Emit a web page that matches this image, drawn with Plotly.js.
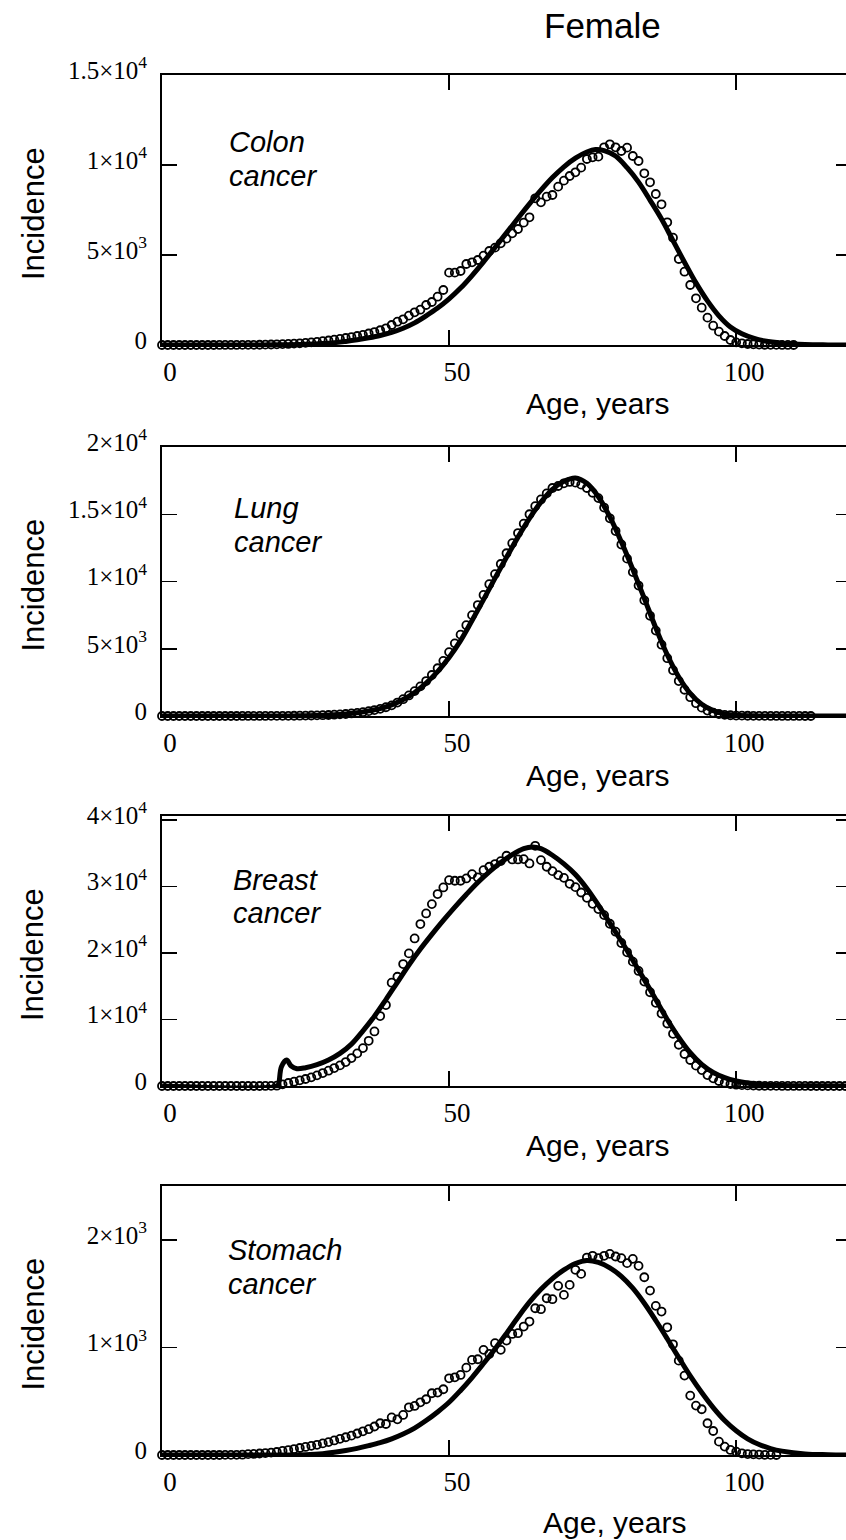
<!DOCTYPE html>
<html><head><meta charset="utf-8">
<script src="https://cdn.plot.ly/plotly-3.0.1.min.js"></script>
<style>html,body{margin:0;padding:0;overflow:hidden;background:#fff;width:846px;height:1540px}#plot{width:860px;height:1540px}</style>
</head><body><div id="plot"></div><script>
// ---------- DATA ----------
const figureTitle = "Female";
const xTitle = "Age, years";
const yTitle = "Incidence";
const cancerNames = [["Colon","cancer"],["Lung","cancer"],["Breast","cancer"],["Stomach","cancer"]];

const xTickVals = [0, 50, 100];
const xTickText = ["0", "50", "100"];

const colonTickVals = [0, 5000, 10000, 15000];
const colonTickText = ["0", "5×10<sup>3</sup>", "1×10<sup>4</sup>", "1.5×10<sup>4</sup>"];
const lungTickVals = [0, 5000, 10000, 15000, 20000];
const lungTickText = ["0", "5×10<sup>3</sup>", "1×10<sup>4</sup>", "1.5×10<sup>4</sup>", "2×10<sup>4</sup>"];
const breastTickVals = [0, 10000, 20000, 30000, 40000];
const breastTickText = ["0", "1×10<sup>4</sup>", "2×10<sup>4</sup>", "3×10<sup>4</sup>", "4×10<sup>4</sup>"];
const stomachTickVals = [0, 1000, 2000];
const stomachTickText = ["0", "1×10<sup>3</sup>", "2×10<sup>3</sup>"];

// observed incidence, one value per year of age starting at age 0
const colonObserved = [
 0,0,0,0,0,0,0,0,0,0,
 2,2,3,4,5,8,10,14,20,28,
 40,50,60,75,95,120,145,175,210,250,
 295,340,390,440,500,560,640,720,820,926,
 1111,1296,1426,1630,1815,1963,2222,2389,2685,3056,
 4019,4019,4111,4500,4593,4722,4963,5223,5408,5649,
 5908,6204,6445,6797,7093,8149,7927,8241,8334,8797,
 9130,9390,9594,9853,10334,10427,10464,10982,11149,10982,
 10778,10964,10501,10223,9538,9038,8390,7815,6815,5963,
 4778,4074,3334,2593,2074,1519,1074,741,500,278,
 148,93,56,35,22,15,10,6,4,2,1];
const lungObserved = [
 0,0,0,0,0,0,0,0,0,0,
 0,0,1,1,2,2,3,4,5,7,
 8,10,14,18,23,30,38,48,60,75,
 95,120,150,190,235,290,360,440,530,650,
 790,1000,1250,1530,1850,2200,2600,3050,3550,4100,
 4750,5400,6050,6750,7500,8250,9000,9800,10550,11300,
 12100,12850,13600,14300,15000,15600,16100,16550,16950,17100,
 17300,17400,17350,17200,16950,16600,16200,15500,14700,13750,
 12750,11700,10700,9700,8600,7450,6350,5300,4300,3400,
 2600,1950,1400,950,620,400,250,150,90,55,
 35,26,19,14,10,8,6,5,4,3,2,2,1,1];
const breastObserved = [
 0,0,0,0,0,0,0,0,0,0,
 0,0,0,0,0,0,0,0,5,15,
 50,250,450,650,850,1050,1300,1600,1950,2300,
 2700,3100,3600,4200,4900,5700,6800,8200,10520,12170,
 15530,16430,18340,19940,22190,24350,25950,27350,28860,29860,
 30960,30860,30860,31210,31860,31360,32460,32970,33370,33820,
 34620,34070,34070,34120,33470,36120,33970,32970,32310,31710,
 31300,30400,29900,29100,28300,27400,26600,25700,24400,23200,
 21500,20100,18700,17300,15700,14100,12500,10900,9400,7850,
 6200,4810,3910,3060,2400,1650,1150,750,500,300,
 200,130,90,60,40,30,20,15,10,8,6,5,4,3,2,2,1,1,0,0,0];
const stomachObserved = [
 0,0,0,0,0,0,0,0,0,0,
 0,1,1,2,3,8,10,14,18,22,
 28,38,46,55,65,75,85,95,108,120,
 135,150,165,180,200,220,240,265,295,288,
 350,332,372,443,456,490,518,574,580,611,
 713,722,744,812,884,890,977,939,1039,977,
 1063,1125,1132,1194,1240,1364,1355,1457,1448,1572,
 1488,1581,1721,1683,1835,1851,1829,1851,1869,1845,
 1829,1783,1823,1758,1652,1528,1386,1333,1187,1029,
 877,738,552,459,425,295,223,124,78,47,
 31,16,9,6,4,2,1,0];

// model curves (age, incidence)
const colonModelAge = [0,10,15,20,25,30,32,34,36,38,40,42,44,46,48,50,52,54,56,58,60,62,64,66,68,70,72,74,75.5,77,79,81,83,85,87,89,91,93,95,97,99,101,103,105,108,112,116,120];
const colonModel    = [0,0,2,10,45,130,200,290,400,530,700,930,1230,1620,2050,2560,3160,3860,4620,5420,6230,7040,7840,8600,9300,9900,10380,10720,10860,10800,10500,9850,9050,8050,7000,5800,4600,3450,2450,1620,1000,620,380,220,100,25,5,0];
const lungModelAge = [0,10,20,24,28,30,32,34,36,38,40,42,44,46,48,50,52,54,56,58,60,62,64,66,68,70,72,74,76,78,80,82,84,86,88,90,92,94,96,98,100,104,110,120];
const lungModel    = [0,0,5,15,55,90,150,240,380,545,830,1230,1750,2450,3300,4350,5600,7100,8650,10250,11800,13300,14700,15900,16850,17450,17700,17300,16300,14800,12950,10900,8750,6550,4550,2900,1680,870,400,160,55,8,0,0];
const breastModelAge = [0,20,20.3,20.8,21.7,22.5,23.5,25,27,29,31,33,35,37,39,41,43,45,47,49,51,53,55,57,59,61,63,64.5,66,68,70,72,74,76,78,80,82,84,86,88,90,92,94,96,98,100,102,105,108,113,120];
const breastModel    = [0,0,300,2900,3900,3000,2600,2750,3200,3900,4900,6300,8300,10500,13000,15600,18200,20600,22800,24900,26900,28800,30600,32200,33600,34800,35700,35950,35700,34700,33400,31800,29700,27200,24500,21800,18900,16000,13000,10000,7300,5000,3250,2050,1250,750,440,190,80,20,0];
const stomachModelAge = [0,20,25,28,30,32,34,36,38,40,42,44,46,48,50,52,54,56,58,60,62,64,66,68,70,72,74,76,78,80,82,84,86,88,90,92,94,96,98,100,102,104,106,108,112,116,120];
const stomachModel    = [0,0,3,12,25,42,62,87,115,150,195,250,320,400,490,600,720,850,985,1130,1280,1420,1540,1640,1720,1780,1808,1790,1740,1660,1550,1410,1250,1080,905,735,580,440,320,225,150,97,60,36,10,3,0];

// ---------- LAYOUT HELPERS ----------
const W = 860, H = 1540, ML = 162, MR = 9;
const PW = W - ML - MR;
const px2x = p => (p - ML) / PW;
const px2y = p => 1 - p / H;
const yearAges = arr => arr.map((_, i) => i);

const panels = [
  {obs: colonObserved, mAge: colonModelAge, m: colonModel, range: [0, 15000], tv: colonTickVals, tt: colonTickText, top: 75, bottom: 345, labelX: 227, l1: 142, l2: 176, titleY: 404, titleX: 597},
  {obs: lungObserved, mAge: lungModelAge, m: lungModel, range: [0, 20000], tv: lungTickVals, tt: lungTickText, top: 447, bottom: 716, labelX: 232, l1: 508, l2: 542, titleY: 775, titleX: 597},
  {obs: breastObserved, mAge: breastModelAge, m: breastModel, range: [0, 40600], tv: breastTickVals, tt: breastTickText, top: 816, bottom: 1086, labelX: 231, l1: 880, l2: 913, titleY: 1145, titleX: 597},
  {obs: stomachObserved, mAge: stomachModelAge, m: stomachModel, range: [0, 2500], tv: stomachTickVals, tt: stomachTickText, top: 1186, bottom: 1455, labelX: 226, l1: 1250, l2: 1284, titleY: 1522, titleX: 614}
];

const traces = [];
const layout = {
  width: W, height: H, margin: {l: ML, r: MR, t: 0, b: 0},
  paper_bgcolor: '#fff', plot_bgcolor: '#fff', showlegend: false,
  font: {family: 'Liberation Sans, Arial, sans-serif', color: '#000'},
  annotations: []
};

const axisCommon = {
  showgrid: false, zeroline: false, showline: true, linewidth: 2, linecolor: '#000',
  mirror: 'ticks', ticks: 'inside', ticklen: 15, tickwidth: 1.5, tickcolor: '#000',
  tickmode: 'array'
};

panels.forEach((p, i) => {
  const n = i === 0 ? '' : String(i + 1);
  const xa = 'x' + n, ya = 'y' + n;
  traces.push({
    type: 'scatter', mode: 'lines', x: p.mAge, y: p.m, xaxis: xa, yaxis: ya,
    line: {color: '#000', width: 5, shape: 'spline', smoothing: 1}, cliponaxis: false, hoverinfo: 'skip'
  });
  traces.push({
    type: 'scatter', mode: 'markers', x: yearAges(p.obs), y: p.obs, xaxis: xa, yaxis: ya,
    marker: {symbol: 'circle-open', size: 8, color: '#000', line: {color: '#000', width: 1.8}}, cliponaxis: false, hoverinfo: 'skip'
  });
  const yDom = [px2y(p.bottom), px2y(p.top)];
  layout['xaxis' + n] = Object.assign({}, axisCommon, {
    domain: [0, 1], anchor: ya, range: [0, 120], tickvals: xTickVals, ticktext: xTickText,
    tickfont: {family: 'Liberation Serif, Times New Roman, serif', size: 27, color: '#000'},
    ticklabelshift: 8, ticklabelstandoff: 2
  });
  layout['yaxis' + n] = Object.assign({}, axisCommon, {
    domain: yDom, anchor: xa, range: p.range, tickvals: p.tv, ticktext: p.tt,
    tickfont: {family: 'Liberation Serif, Times New Roman, serif', size: 25, color: '#000'},
    ticklabelshift: -5, ticklabelstandoff: 8
  });
  const cf = {family: 'Liberation Sans, Arial, sans-serif', size: 29, color: '#000'};
  layout.annotations.push(
    {xref: 'paper', yref: 'paper', x: px2x(p.labelX), y: px2y(p.l1), xanchor: 'left', yanchor: 'middle', showarrow: false, text: '<i>' + cancerNames[i][0] + '</i>', font: cf},
    {xref: 'paper', yref: 'paper', x: px2x(p.labelX), y: px2y(p.l2), xanchor: 'left', yanchor: 'middle', showarrow: false, text: '<i>' + cancerNames[i][1] + '</i>', font: cf},
    {xref: 'paper', yref: 'paper', x: px2x(p.titleX), y: px2y(p.titleY), xanchor: 'center', yanchor: 'middle', showarrow: false, text: xTitle, font: {family: 'Liberation Sans, Arial, sans-serif', size: 30, color: '#000'}},
    {xref: 'paper', yref: 'paper', x: px2x(33), y: px2y((p.top + p.bottom) / 2 + 4), xanchor: 'center', yanchor: 'middle', showarrow: false, textangle: -90, text: yTitle, font: {family: 'Liberation Sans, Arial, sans-serif', size: 31, color: '#000'}}
  );
});

layout.annotations.push({xref: 'paper', yref: 'paper', x: px2x(602), y: px2y(25), xanchor: 'center', yanchor: 'middle', showarrow: false, text: figureTitle, font: {family: 'Liberation Sans, Arial, sans-serif', size: 35, color: '#000'}});

Plotly.newPlot('plot', traces, layout, {staticPlot: true, displayModeBar: false});
</script></body></html>
